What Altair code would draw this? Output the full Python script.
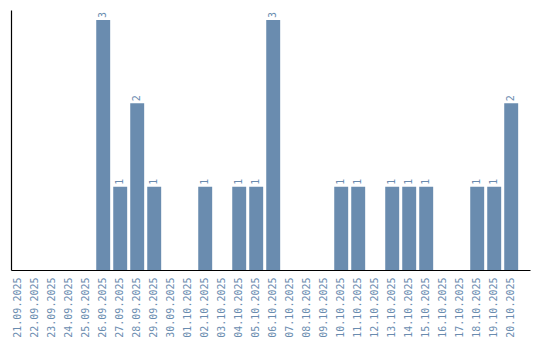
import altair as alt
import pandas as pd

dates = ["21.09.2025","22.09.2025","23.09.2025","24.09.2025","25.09.2025","26.09.2025",
         "27.09.2025","28.09.2025","29.09.2025","30.09.2025","01.10.2025","02.10.2025",
         "03.10.2025","04.10.2025","05.10.2025","06.10.2025","07.10.2025","08.10.2025",
         "09.10.2025","10.10.2025","11.10.2025","12.10.2025","13.10.2025","14.10.2025",
         "15.10.2025","16.10.2025","17.10.2025","18.10.2025","19.10.2025","20.10.2025"]
counts = [0,0,0,0,0,3,1,2,1,0,0,1,0,1,1,3,0,0,0,1,1,0,1,1,1,0,0,1,1,2]

df = pd.DataFrame({"date": dates, "count": counts})
color = "#6a8caf"
font = "DejaVu Sans Mono"

xscale = alt.Scale(paddingInner=0.18, paddingOuter=0.355, align=0.02)
x = alt.X("date:N", sort=dates, title=None, scale=xscale,
          axis=alt.Axis(labelAngle=-90, ticks=False, labelPadding=7, labelColor=color,
                        labelFont=font, labelFontSize=10, domainColor="black",
                        domainWidth=1.2, labelBaseline="middle"))
y = alt.Y("count:Q", title=None, scale=alt.Scale(domain=[0, 3.12], nice=False),
          axis=alt.Axis(labels=False, ticks=False, grid=False, domainColor="black",
                        domainWidth=1.2))

bars = alt.Chart(df).mark_bar(color=color).encode(x=x, y=y)
text = alt.Chart(df[df["count"] > 0]).mark_text(
    angle=270, align="left", baseline="middle", dx=2, color=color,
    font=font, fontSize=10).encode(x=alt.X("date:N", sort=dates, scale=xscale),
                                   y="count:Q", text="count:Q")

chart = (bars + text).properties(
    width=519, height=260,
    autosize=alt.AutoSizeParams(type="none"),
    padding={"left": 11, "top": 10, "right": 10, "bottom": 70},
).configure_view(stroke=None)

chart.save("out.html", embed_options={"renderer": "svg", "actions": False})
